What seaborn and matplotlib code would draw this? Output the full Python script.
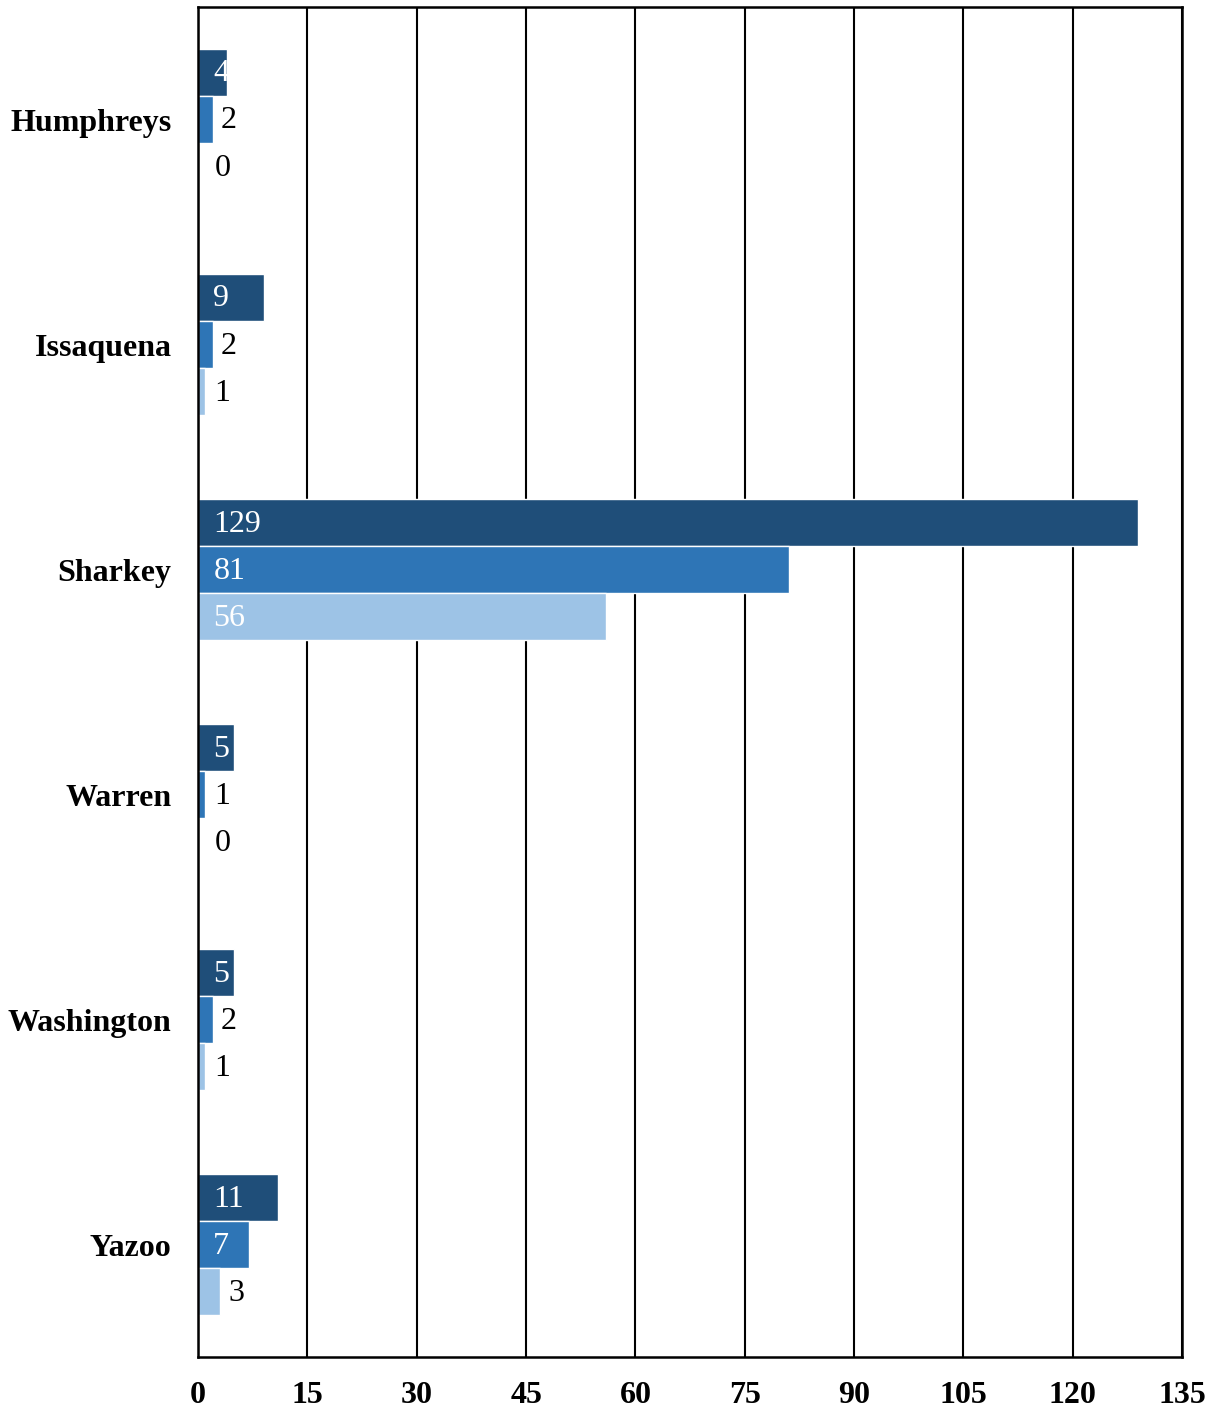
import seaborn as sns
import pandas as pd
import matplotlib.pyplot as plt

counties = ["Humphreys", "Issaquena", "Sharkey", "Warren", "Washington", "Yazoo"]
series_names = ["Series 1", "Series 2", "Series 3"]
series_1 = [4, 9, 129, 5, 5, 11]
series_2 = [2, 2, 81, 1, 2, 7]
series_3 = [0, 1, 56, 0, 1, 3]
x_ticks = [0, 15, 30, 45, 60, 75, 90, 105, 120, 135]
colors = ["#1f4e79", "#2e75b6", "#9dc3e6"]

rows = []
for name, vals in zip(series_names, [series_1, series_2, series_3]):
    for c, v in zip(counties, vals):
        rows.append({"county": c, "series": name, "value": v})
df = pd.DataFrame(rows)

sns.set_theme(style="white")
plt.rcParams["font.family"] = ["Liberation Serif", "DejaVu Serif"]
plt.rcParams["text.color"] = "black"
plt.rcParams["xtick.color"] = "black"
plt.rcParams["ytick.color"] = "black"

fig = plt.figure(figsize=(12.15, 14.11), dpi=100)
ax = fig.add_axes([0.163, 0.038, 0.81, 0.957])
sns.barplot(data=df, y="county", x="value", hue="series", orient="h",
            palette=colors, width=0.627, saturation=1, ax=ax, legend=False)

ax.set_xlim(0, 135)
ax.set_xticks(x_ticks)
ax.set_xticklabels([str(t) for t in x_ticks], fontsize=23, fontweight="bold", color="black")
ax.tick_params(axis="x", pad=17, length=0)
ax.tick_params(axis="y", pad=19, length=0)
for lbl in ax.get_yticklabels():
    lbl.set_fontsize(23)
    lbl.set_fontweight("bold")
    lbl.set_color("black")
ax.set_xlabel("")
ax.set_ylabel("")
ax.xaxis.grid(True, color="black", linewidth=1.5)
ax.set_axisbelow(True)
for s in ax.spines.values():
    s.set_color("black")
    s.set_linewidth(1.8)

for cont in ax.containers:
    for bar in cont:
        v = bar.get_width()
        y = bar.get_y() + bar.get_height() / 2
        if v >= 4:
            ax.annotate(f"{int(v)}", (0, y), xytext=(11, -1), textcoords="offset points",
                        ha="left", va="center", color="white", fontsize=23)
        else:
            off = max(6, 12 - v / 135 * 984 * 0.72)
            ax.annotate(f"{int(v)}", (v, y), xytext=(off, -1), textcoords="offset points",
                        ha="left", va="center", color="black", fontsize=23)

fig.savefig("out.png", dpi=100)
